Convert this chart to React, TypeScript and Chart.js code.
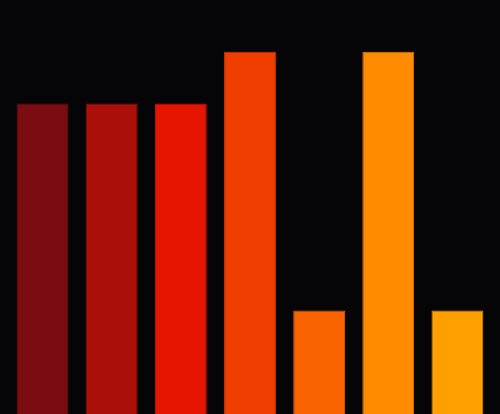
import React, { useEffect, useRef } from "react";
import Chart from "chart.js/auto";

const categories = ["A", "B", "C", "D", "E", "F", "G"];
const values = [6, 6, 6, 7, 2, 7, 2];
const barColors = [
  "#7a0c12",
  "#ab0f0a",
  "#e61500",
  "#ef3e00",
  "#f96400",
  "#ff8c00",
  "#ffa000",
];
const edgeColors = [
  "#6a0a10",
  "#960d08",
  "#cc1200",
  "#d83800",
  "#e05a00",
  "#e67e00",
  "#e69000",
];
const yMax = 8;

export default function App() {
  const chartRef = useRef<HTMLCanvasElement>(null);

  useEffect(() => {
    document.body.style.margin = "0";
    document.body.style.background = "#050508";
    if (!chartRef.current) return;

    const chart = new Chart(chartRef.current, {
      type: "bar",
      data: {
        labels: categories,
        datasets: [
          {
            data: values,
            backgroundColor: barColors,
            borderColor: edgeColors,
            borderWidth: 1,
            barPercentage: 0.75,
            categoryPercentage: 1,
          },
        ],
      },
      options: {
        animation: false,
        responsive: false,
        maintainAspectRatio: false,
        layout: { padding: { left: 8, right: 8, top: 0, bottom: 0 } },
        scales: {
          x: { display: false },
          y: { display: false, min: 0, max: yMax },
        },
        plugins: {
          legend: { display: false },
          tooltip: { enabled: false },
        },
      },
    });

    return () => chart.destroy();
  }, []);

  return (
    <div style={{ width: 500, height: 414, background: "#050508" }}>
      <canvas ref={chartRef} width={500} height={414} style={{ display: "block" }} />
    </div>
  );
}
